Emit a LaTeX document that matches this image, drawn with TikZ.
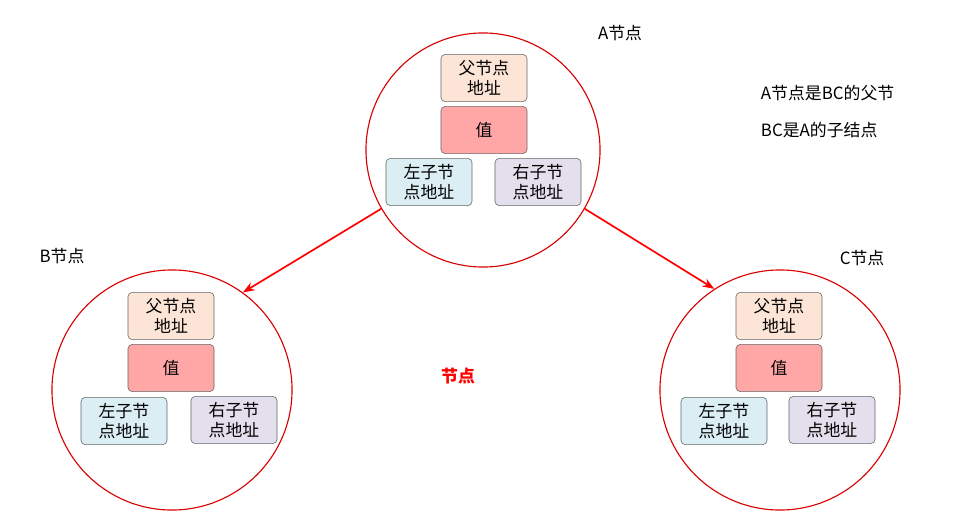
\documentclass[tikz,border=0pt]{standalone}
\usepackage{fontspec}
\setmainfont{Noto Sans CJK SC}
\usetikzlibrary{arrows.meta}
\definecolor{parentc}{HTML}{FCE4D6}
\definecolor{valc}{HTML}{FFA7A7}
\definecolor{leftc}{HTML}{DAEEF3}
\definecolor{rightc}{HTML}{E4DFEC}
\tikzset{
    >={Stealth[]},
    ring/.style={circle,draw=red!85!black,line width=0.8pt,inner sep=0pt},
    cell/.style={draw=gray!80!black,rounded corners=3pt,minimum width=2.15cm,minimum height=1.18cm,
        align=center,font=\fontsize{12}{14}\selectfont,inner sep=1pt},
    tag/.style={font=\fontsize{12}{14}\selectfont}
}
\newcommand{\treenode}[3]{% name, x, y  (box centres relative to circle centre)
    \node[ring,minimum size=#1] at (0,0) {};
}
\begin{document}
\begin{tikzpicture}[x=0.025cm,y=-0.025cm]
    \useasboundingbox (0,0) rectangle (964,518);
    % Circles
    \node[ring,minimum size=5.85cm] (cA) at (483,150) {};
    \node[ring,minimum size=6.0cm] (cB) at (172,390) {};
    \node[ring,minimum size=6.0cm] (cC) at (780,390) {};

    % A
    \node[cell,fill=parentc] (pA) at (484,78) {父节点\\地址};
    \node[cell,fill=valc] (vA) at (484,130) {值};
    \node[cell,fill=leftc] (lA) at (429,182) {左子节\\点地址};
    \node[cell,fill=rightc] (rA) at (538,182) {右子节\\点地址};

    % B
    \node[cell,fill=parentc] (pB) at (171,316) {父节点\\地址};
    \node[cell,fill=valc] (vB) at (171,368) {值};
    \node[cell,fill=leftc] (lB) at (124,421) {左子节\\点地址};
    \node[cell,fill=rightc] (rB) at (234,420) {右子节\\点地址};

    % C
    \node[cell,fill=parentc] (pC) at (779,316) {父节点\\地址};
    \node[cell,fill=valc] (vC) at (779,368) {值};
    \node[cell,fill=leftc] (lC) at (724,421) {左子节\\点地址};
    \node[cell,fill=rightc] (rC) at (832,420) {右子节\\点地址};

    % Links
    \draw[->,red,line width=1.2pt] (cA.210) -- (cB.54);
    \draw[->,red,line width=1.2pt] (cA.330) -- (cC.123);

    % Labels
    \node[tag] (tA) at (620,33) {A节点};
    \node[tag] (tB) at (62,256) {B节点};
    \node[tag] (tC) at (862,258) {C节点};
    \node[tag,anchor=west] (n1) at (756,93) {A节点是BC的父节};
    \node[tag,anchor=west] (n2) at (756,130) {BC是A的子结点};
    \node[tag,red,font=\bfseries\fontsize{12}{14}\selectfont] (tN) at (458,376) {节点};
\end{tikzpicture}
\end{document}
